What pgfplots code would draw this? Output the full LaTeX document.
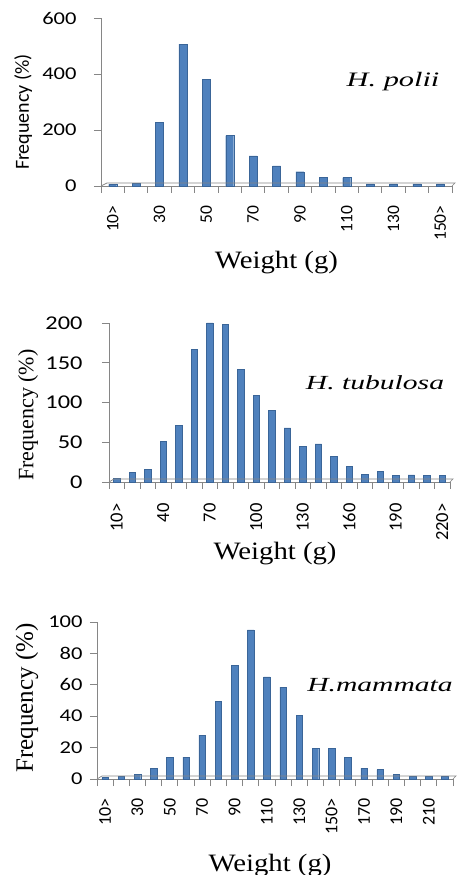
\documentclass[border=0pt]{standalone}
\usepackage{fontspec}
\setmainfont{Liberation Serif}[FakeStretch=1.15]
\newfontfamily\serifrot{Liberation Serif}
\newfontfamily\specfont{Liberation Serif}[FakeStretch=1.48]
\newfontfamily\calh{Carlito}[FakeStretch=1.25]
\newfontfamily\calr{Carlito}
\usepackage{pgfplots}
\pgfplotsset{compat=1.18}
\definecolor{barblue}{HTML}{4F81BD}
\definecolor{baredge}{HTML}{3A6598}
\definecolor{axgray}{HTML}{868686}
\tikzset{floor/.style={axgray,line width=0.7pt}}
\pgfplotsset{
  histo/.style={
    scale only axis,
    clip=false,
    axis x line=bottom, axis y line=left,
    axis line style={axgray,-,line width=0.9pt},
    tick align=outside,
    major tick length=7pt,
    minor tick length=7pt,
    major x tick style={draw=none},
    minor x tick style={axgray,line width=0.9pt},
    ytick style={axgray,line width=0.9pt},
    ymin=0,
    ybar,
    bar width=8pt,
    /pgf/number format/assume math mode=true,
    yticklabel style={font=\calh\fontsize{18}{20}\selectfont, black},
    xticklabel style={font=\calr\fontsize{17.5}{19}\selectfont, rotate=90, anchor=east, black},
    xticklabel shift=9pt,
    xlabel style={font=\fontsize{25}{27}\selectfont, anchor=center},
    ylabel style={anchor=center},
  },
}
\begin{document}
\begin{tikzpicture}
\useasboundingbox (0pt,0pt) rectangle (458pt,875pt);
% Panel 1: H. polii
\begin{axis}[histo,
  at={(101pt,689pt)}, anchor=south west,
  width=351pt, height=168pt,
  xmin=-0.5, xmax=14.5, ymax=600,
  ytick={0,200,400,600},
  yticklabel shift=14pt,
  xtick={0,...,14},
  xticklabels={10>,,30,,50,,70,,90,,110,,130,,150>},
  minor xtick={-0.5,0.5,...,14.5},
  xlabel={Weight (g)},
  xlabel style={at={(axis description cs:0.5,-0.458)}},
  ylabel={Frequency (\%)},
  ylabel style={font=\calr\fontsize{20}{22}\selectfont, at={(axis description cs:-0.222,0.44)}},
]
\addplot[fill=barblue, draw=baredge] coordinates {
(0,6) (1,10) (2,228) (3,507) (4,380) (5,180) (6,108) (7,72) (8,51) (9,32) (10,30) (11,8) (12,8) (13,8) (14,8)};
\draw[floor] (rel axis cs:0,0) -- ++(6pt,3pt) -- ([xshift=3pt,yshift=3pt]rel axis cs:1,0) -- (rel axis cs:1,0);
\node[font=\specfont\itshape\fontsize{20.5}{22}\selectfont] at (rel axis cs:0.832,0.619) {H. polii};
\end{axis}
% Panel 2: H. tubulosa
\begin{axis}[histo,
  at={(109pt,393pt)}, anchor=south west,
  width=341pt, height=159pt,
  bar width=6.5pt,
  xmin=-0.5, xmax=21.5, ymax=200,
  ytick={0,50,100,150,200},
  yticklabel style={font=\calh\fontsize{19.5}{21}\selectfont},
  yticklabel shift=16pt,
  xtick={0,...,21},
  xticklabels={10>,,,40,,,70,,,100,,,130,,,160,,,190,,,220>},
  minor xtick={-0.5,0.5,...,21.5},
  xticklabel style={font=\calr\fontsize{18.5}{20}\selectfont},
  xticklabel shift=11pt,
  xlabel={Weight (g)},
  xlabel style={at={(axis description cs:0.487,-0.447)}},
  ylabel={Frequency (\%)},
  ylabel style={font=\serifrot\fontsize{22}{24}\selectfont, at={(axis description cs:-0.2375,0.421)}},
]
\addplot[fill=barblue, draw=baredge] coordinates {
(0,5) (1,12) (2,16) (3,51) (4,71) (5,167) (6,200) (7,198) (8,142) (9,109) (10,90) (11,68) (12,45) (13,48) (14,32) (15,20) (16,10) (17,13) (18,8) (19,9) (20,8) (21,8)};
\draw[floor] (rel axis cs:0,0) -- ++(5pt,3pt) -- ([xshift=3pt,yshift=3pt]rel axis cs:1,0) -- (rel axis cs:1,0);
\node[font=\specfont\itshape\fontsize{20}{22}\selectfont] at (rel axis cs:0.78,0.623) {H. tubulosa};
\end{axis}
% Panel 3: H. mammata
\begin{axis}[histo,
  at={(97pt,96pt)}, anchor=south west,
  width=356pt, height=157pt,
  bar width=6.5pt,
  xmin=-0.5, xmax=21.5, ymax=100,
  ytick={0,20,40,60,80,100},
  yticklabel shift=4pt,
  xtick={0,...,21},
  xticklabels={10>,,30,,50,,70,,90,,110,,130,,150>,,170,,190,,210,},
  minor xtick={-0.5,0.5,...,21.5},
  xticklabel style={font=\calr\fontsize{18}{19}\selectfont},
  xticklabel shift=9pt,
  xlabel={Weight (g)},
  xlabel style={at={(axis description cs:0.486,-0.548)}},
  ylabel={Frequency (\%)},
  ylabel style={font=\serifrot\fontsize{25}{27}\selectfont, at={(axis description cs:-0.197,0.516)}},
]
\addplot[fill=barblue, draw=baredge] coordinates {
(0,1) (1,1.5) (2,3) (3,7) (4,14) (5,14) (6,28) (7,49.5) (8,72.5) (9,95) (10,65) (11,58.5) (12,40.5) (13,19.5) (14,19.5) (15,14) (16,7) (17,6) (18,3) (19,1.5) (20,1.5) (21,1.5)};
\draw[floor] (rel axis cs:0,0) -- ++(5pt,3pt) -- ([xshift=3pt,yshift=3pt]rel axis cs:1,0) -- (rel axis cs:1,0);
\node[font=\specfont\itshape\fontsize{20}{22}\selectfont] at (rel axis cs:0.795,0.599) {H.mammata};
\end{axis}
\end{tikzpicture}
\end{document}
